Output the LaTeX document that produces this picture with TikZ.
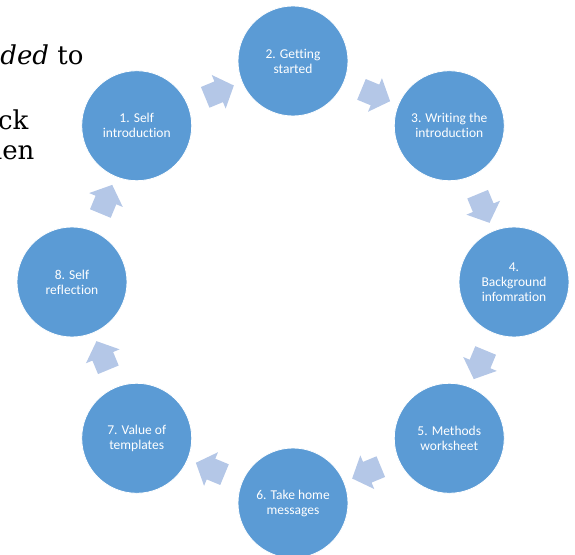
\documentclass[tikz,border=0pt]{standalone}
\usepackage{fontspec}
\setmainfont{Carlito}[Ligatures=NoCommon]
\newfontfamily\docfont{DejaVu Serif}
\usetikzlibrary{shapes.arrows,calc}
\definecolor{stepblue}{HTML}{5B9BD5}
\definecolor{arrowblue}{HTML}{B4C7E7}

\begin{document}
\begin{tikzpicture}[x=1pt, y=1pt,
    stage/.style={circle, fill=stepblue, draw=white, line width=0.8pt, minimum size=110pt,
        inner sep=0pt, text=white, align=center, font=\fontsize{13.5}{15}\selectfont},
    cyclearrow/.style={single arrow, fill=arrowblue, minimum height=31pt, inner xsep=0pt,
        inner ysep=11pt, single arrow head extend=7pt, single arrow tip angle=96}]
    % Frame
    \clip (-293,-272) rectangle (282,282);
    
    % Page text behind the diagram
    \node[anchor=base east, font=\docfont\fontsize{26}{30}\selectfont] (line1) at (-206,217) {\textit{eded} to};
    \node[anchor=base east, font=\docfont\fontsize{26}{30}\selectfont] (line2) at (-261,152) {ck};
    \node[anchor=base east, font=\docfont\fontsize{26}{30}\selectfont] (line3) at (-255,122) {hen};
    
    % Stages
    \foreach \i/\a/\txt in {1/135/{1. Self\\introduction}, 2/90/{2. Getting\\started},
        3/45/{3. Writing the\\introduction}, 4/0/{4.\\Background\\infomration},
        5/-45/{5. Methods\\worksheet}, 6/-90/{6. Take home\\messages},
        7/-135/{7. Value of\\templates}, 8/180/{8. Self\\reflection}} {
        \node[stage] (s\i) at (\a:221) {\txt};
    }
    
    % Arrows between stages
    \foreach \i/\j/\d in {1/2/22.5, 2/3/-22.5, 3/4/-67.5, 4/5/-112.5,
        5/6/-157.5, 6/7/-202.5, 7/8/-247.5, 8/1/-292.5} {
        \node[cyclearrow, rotate=\d] (a\i) at ($(s\i)!0.5!(s\j)$) {};
    }
\end{tikzpicture}
\end{document}
